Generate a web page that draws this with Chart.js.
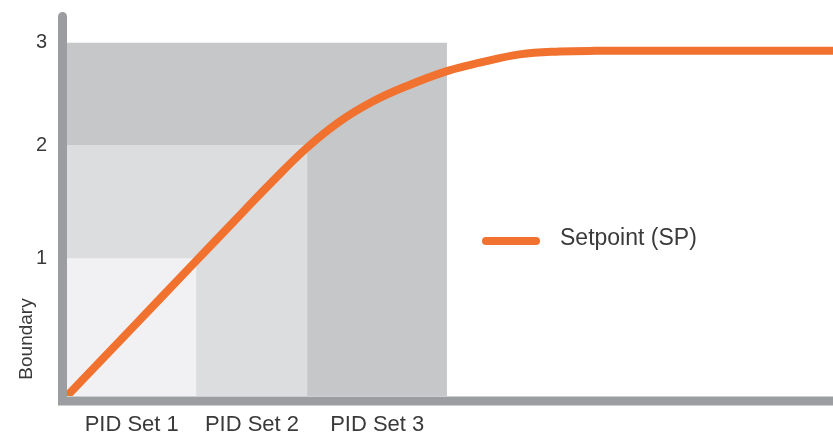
<!DOCTYPE html>
<html>
<head>
<meta charset="utf-8">
<script src="https://cdn.jsdelivr.net/npm/chart.js@4/dist/chart.umd.min.js"></script>
<style>
  html, body { margin: 0; padding: 0; background: #fff; }
  canvas { display: block; }
</style>
</head>
<body>
<canvas id="myChart" width="833" height="434"></canvas>
<script>
// PID set boundaries (x = progress 0..100, y = boundary level)
var setNames = ["PID Set 1", "PID Set 2", "PID Set 3"];
var setEnds = [16.9, 31.4, 49.6];
var setLevels = [1.17, 2.13, 3];
var setColors = ["#f1f1f3", "#dcdddf", "#c6c7c9"];

// y tick labels sit on the boundary levels
var yTickValues = [1.17, 2.13, 3];
var yTickLabels = ["1", "2", "3"];

// setpoint curve
var spX = [0, 8, 16, 23.1, 26.8, 31.2, 35.6, 39.9, 44.3, 49.7, 53.9, 59.1, 64.3, 69, 100];
var spY = [0, 0.544, 1.088, 1.571, 1.82, 2.1, 2.33, 2.5, 2.63, 2.76, 2.83, 2.9, 2.925, 2.93, 2.93];

var orange = "#f1712f";
var axisGray = "#9c9da1";
var textColor = "#3a3a3a";
var font = "'Liberation Sans', Arial, sans-serif";

var spData = spX.map(function (x, i) { return { x: x, y: spY[i] }; });

var datasets = [{
  label: "Setpoint (SP)",
  data: spData,
  borderColor: orange,
  borderWidth: 8,
  borderCapStyle: "round",
  borderJoinStyle: "round",
  tension: 0.4,
  pointRadius: 0,
  fill: false
}];
// smallest band first so it sits on top
for (var i = 0; i < setNames.length; i++) {
  datasets.push({
    label: setNames[i],
    data: [{ x: 0, y: setLevels[i] }, { x: setEnds[i], y: setLevels[i] }],
    backgroundColor: setColors[i],
    borderWidth: 0,
    pointRadius: 0,
    tension: 0,
    fill: "origin"
  });
}

var bandCenters = setEnds.map(function (e, i) {
  var start = i == 0 ? 0 : setEnds[i - 1];
  return (start + e) / 2;
});

// thick axis lines with rounded ends
var axesPlugin = {
  id: "axes",
  beforeDatasetsDraw: function (chart) {
    var a = chart.chartArea;
    var ctx = chart.ctx;
    ctx.save();
    ctx.strokeStyle = axisGray;
    ctx.lineWidth = 9;
    ctx.lineCap = "round";
    ctx.beginPath();
    ctx.moveTo(a.left - 4.5, a.top + 4.5);
    ctx.lineTo(a.left - 4.5, a.bottom + 5);
    ctx.lineTo(chart.width + 10, a.bottom + 5);
    ctx.stroke();
    ctx.restore();
  }
};

// legend + y title
var labelsPlugin = {
  id: "labels",
  afterDraw: function (chart) {
    var ctx = chart.ctx;
    var ds = chart.data.datasets[0];
    ctx.save();
    ctx.strokeStyle = ds.borderColor;
    ctx.lineWidth = 8;
    ctx.lineCap = "round";
    ctx.beginPath();
    ctx.moveTo(486, 241);
    ctx.lineTo(536, 241);
    ctx.stroke();
    ctx.fillStyle = textColor;
    ctx.font = "23px " + font;
    ctx.textBaseline = "middle";
    ctx.fillText(ds.label, 560, 239);

    ctx.translate(27, 339);
    ctx.rotate(-Math.PI / 2);
    ctx.textAlign = "center";
    ctx.font = "19px " + font;
    ctx.fillText("Boundary", 0, 0);
    ctx.restore();
  }
};

new Chart("myChart", {
  type: "line",
  data: { datasets: datasets },
  options: {
    responsive: false,
    animation: false,
    layout: { padding: { top: 12, left: 0, right: 0, bottom: 0 } },
    plugins: {
      legend: { display: false },
      tooltip: { enabled: false }
    },
    scales: {
      x: {
        type: "linear",
        min: 0,
        max: 100,
        grid: { display: false, drawTicks: false },
        border: { display: false },
        afterBuildTicks: function (s) {
          s.ticks = bandCenters.map(function (v) { return { value: v }; });
        },
        afterFit: function (s) {
          s.height = 38;
          s.paddingLeft = 0;
          s.paddingRight = 0;
        },
        ticks: {
          padding: 16,
          maxRotation: 0,
          autoSkip: false,
          color: textColor,
          font: { family: font, size: 22 },
          callback: function (v, i) { return setNames[i]; }
        }
      },
      y: {
        type: "linear",
        min: 0,
        max: 3.26,
        grid: { display: false, drawTicks: false },
        border: { display: false },
        afterBuildTicks: function (s) {
          s.ticks = yTickValues.map(function (v) { return { value: v }; });
        },
        afterFit: function (s) {
          s.width = 67;
          s.paddingTop = 0;
          s.paddingBottom = 0;
        },
        ticks: {
          padding: 20,
          color: textColor,
          font: { family: font, size: 20 },
          callback: function (v, i) { return yTickLabels[i]; }
        }
      }
    }
  },
  plugins: [axesPlugin, labelsPlugin]
});
</script>
</body>
</html>
